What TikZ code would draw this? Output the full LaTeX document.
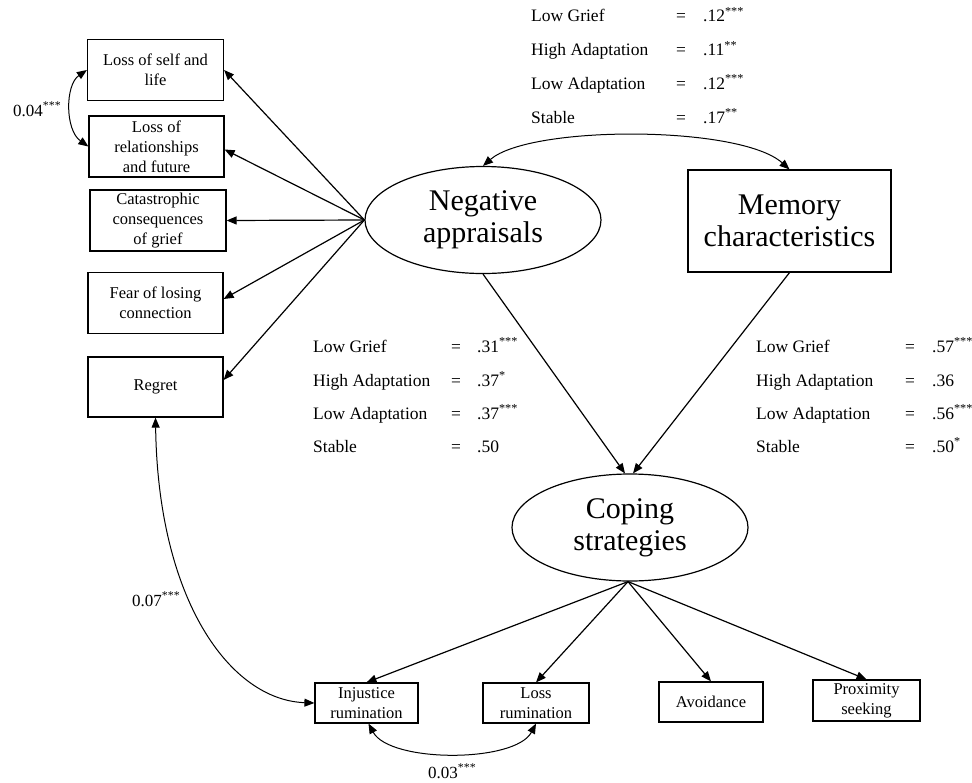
\documentclass[tikz,border=0pt]{standalone}
\usepackage{fontspec}
\setmainfont{Liberation Serif}
\usetikzlibrary{arrows.meta,shapes.geometric}
\tikzset{
  box/.style={draw, line width=1.2pt, rectangle, inner sep=0pt, align=center, font=\fontsize{16.5}{20}\selectfont},
  latent/.style={draw, line width=1.2pt, ellipse, inner sep=0pt, align=center, font=\fontsize{30}{32}\selectfont},
  bigbox/.style={draw, line width=1.2pt, rectangle, inner sep=0pt, align=center, font=\fontsize{30}{32}\selectfont},
  arr/.style={line width=1.2pt, -{Triangle[length=10pt,width=8pt]}},
  cov/.style={line width=1pt, {Triangle[length=10pt,width=8pt]}-{Triangle[length=10pt,width=8pt]}},
  stat/.style={anchor=base west, inner sep=0pt, font=\fontsize{17.5}{20}\selectfont},
  lab/.style={anchor=base west, inner sep=0pt, font=\fontsize{17}{20}\selectfont},
}
\newcommand{\st}[1]{\textsuperscript{#1}}
\begin{document}
\begin{tikzpicture}[x=1pt,y=-1pt]
\useasboundingbox (0,0) rectangle (972,782);

% left indicator boxes
\node[box, minimum width=136, minimum height=61] (ls) at (155.5,70) {Loss of self and\\life};
\node[box, minimum width=135, minimum height=61] (lr) at (156.5,146.5) {Loss of\\relationships\\and future};
\node[box, minimum width=136, minimum height=61] (cc) at (158,220.5) {Catastrophic\\consequences\\of grief};
\node[box, minimum width=135, minimum height=61] (fl) at (155.5,303) {Fear of losing\\connection};
\node[box, minimum width=135, minimum height=60] (rg) at (155.5,387) {Regret};

% main constructs
\node[latent, minimum width=236, minimum height=107] (neg) at (483,220) {Negative\\appraisals};
\node[bigbox, minimum width=203, minimum height=102] (mem) at (789.5,221) {Memory\\characteristics};
\node[latent, minimum width=236, minimum height=107] (cop) at (630,527.5) {Coping\\strategies};

% bottom boxes
\node[box, minimum width=103, minimum height=40] (inj) at (366.5,703) {Injustice\\rumination};
\node[box, minimum width=106, minimum height=40] (lru) at (536,703) {Loss\\rumination};
\node[box, minimum width=104, minimum height=40] (avo) at (711,702) {Avoidance};
\node[box, minimum width=107, minimum height=41] (prox) at (866.5,700.5) {Proximity\\seeking};

% paths
\draw[arr] (neg.west) -- (ls.east);
\draw[arr] (neg.west) -- ([yshift=-3pt]lr.east);
\draw[arr] (neg.west) -- (cc.east);
\draw[arr] (neg.west) -- ([yshift=4pt]fl.east);
\draw[arr] (neg.west) -- ([yshift=7pt]rg.east);

\draw[arr] (neg.south) -- ([xshift=-5pt]cop.north);
\draw[arr] (mem.south) -- ([xshift=3pt]cop.north);

\draw[arr] ([xshift=-2pt]cop.south) -- (inj.north);
\draw[arr] ([xshift=-2pt]cop.south) -- (lru.north);
\draw[arr] ([xshift=-2pt]cop.south) -- (avo.north);
\draw[arr] ([xshift=-2pt]cop.south) -- (prox.north);

% covariances
\draw[cov] (neg.north) .. controls (530,125) and (740,125) .. (mem.north);
\draw[cov] (ls.west) .. controls (65,85) and (65,130) .. (lr.west);
\draw[cov] (rg.south) .. controls (158,600) and (230,700) .. (inj.west);
\draw[cov] ([xshift=2pt]inj.south) .. controls (390,763) and (515,763) .. (lru.south);

% covariance labels
\node[lab] (c1) at (13,116) {0.04\st{***}};
\node[lab] (c2) at (132,606) {0.07\st{***}};
\node[lab] (c3) at (428,778) {0.03\st{***}};

% top-right stats
\node[stat] (a1) at (531,21.5) {Low Grief};
\node[stat] (a2) at (531,55.5) {High Adaptation};
\node[stat] (a3) at (531,89) {Low Adaptation};
\node[stat] (a4) at (531,123) {Stable};
\node[stat] (ae1) at (676,21.5) {=};
\node[stat] (ae2) at (676,55.5) {=};
\node[stat] (ae3) at (676,89) {=};
\node[stat] (ae4) at (676,123) {=};
\node[stat] (av1) at (703,21.5) {.12\st{***}};
\node[stat] (av2) at (703,55.5) {.11\st{**}};
\node[stat] (av3) at (703,89) {.12\st{***}};
\node[stat] (av4) at (703,123) {.17\st{**}};

% middle stats
\node[stat] (b1) at (313,352) {Low Grief};
\node[stat] (b2) at (313,386) {High Adaptation};
\node[stat] (b3) at (313,419) {Low Adaptation};
\node[stat] (b4) at (313,452) {Stable};
\node[stat] (be1) at (451,352) {=};
\node[stat] (be2) at (451,386) {=};
\node[stat] (be3) at (451,419) {=};
\node[stat] (be4) at (451,452) {=};
\node[stat] (bv1) at (477,352) {.31\st{***}};
\node[stat] (bv2) at (477,386) {.37\st{*}};
\node[stat] (bv3) at (477,419) {.37\st{***}};
\node[stat] (bv4) at (477,452) {.50};

% right stats
\node[stat] (d1) at (756,352) {Low Grief};
\node[stat] (d2) at (756,386) {High Adaptation};
\node[stat] (d3) at (756,419) {Low Adaptation};
\node[stat] (d4) at (756,452) {Stable};
\node[stat] (de1) at (905,352) {=};
\node[stat] (de2) at (905,386) {=};
\node[stat] (de3) at (905,419) {=};
\node[stat] (de4) at (905,452) {=};
\node[stat] (dv1) at (932,352) {.57\st{***}};
\node[stat] (dv2) at (932,386) {.36};
\node[stat] (dv3) at (932,419) {.56\st{***}};
\node[stat] (dv4) at (932,452) {.50\st{*}};
\end{tikzpicture}
\end{document}
